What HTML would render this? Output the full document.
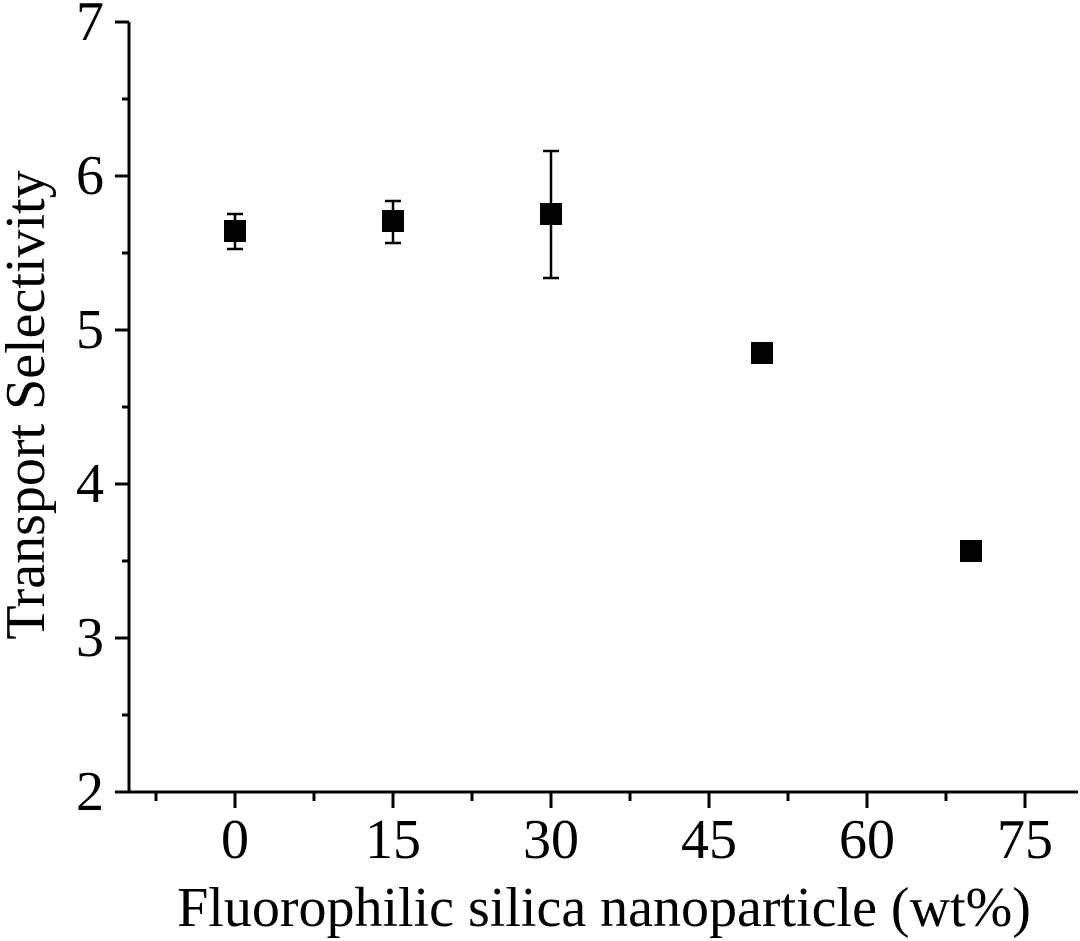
<!DOCTYPE html>
<html><head><style>body{margin:0;background:#fff}svg{display:block}text{font-family:"Liberation Serif",serif;fill:#000}</style></head>
<body>
<svg width="1080" height="941" viewBox="0 0 1080 941">
<g stroke="#000" stroke-width="3" fill="none">
<path d="M129,22 V792 H1078"/>
<path d="M115,22H129 M115,176H129 M115,330H129 M115,484H129 M115,638H129 M115,792H129"/>
<path d="M122,99H129 M122,253H129 M122,407H129 M122,561H129 M122,715H129"/>
<path d="M235,792V808 M393,792V808 M551,792V808 M709,792V808 M867,792V808 M1025,792V808"/>
<path d="M156,792V801 M314,792V801 M472,792V801 M630,792V801 M788,792V801 M946,792V801"/>
</g>
<g stroke="#000" stroke-width="2.5">
<path d="M235,214V249 M227,214H243 M227,249H243"/>
<path d="M393,201V243 M385,201H401 M385,243H401"/>
<path d="M551,151V278 M543,151H559 M543,278H559"/>
</g>
<g fill="#000">
<rect x="224" y="220" width="22" height="22"/>
<rect x="382" y="210" width="22" height="22"/>
<rect x="540" y="203" width="22" height="22"/>
<rect x="751" y="342" width="22" height="22"/>
<rect x="960" y="540" width="22" height="22"/>
</g>
<g font-size="56" text-anchor="end">
<text x="104" y="40">7</text><text x="104" y="194">6</text><text x="104" y="348">5</text>
<text x="104" y="502">4</text><text x="104" y="656">3</text><text x="104" y="810">2</text>
</g>
<g font-size="56" text-anchor="middle">
<text x="235" y="858">0</text><text x="393" y="858">15</text><text x="551" y="858">30</text>
<text x="709" y="858">45</text><text x="867" y="858">60</text><text x="1025" y="858">75</text>
<text x="604" y="926">Fluorophilic silica nanoparticle (wt%)</text>
<text transform="translate(44,405) rotate(-90)">Transport Selectivity</text>
</g>
</svg>
</body></html>
